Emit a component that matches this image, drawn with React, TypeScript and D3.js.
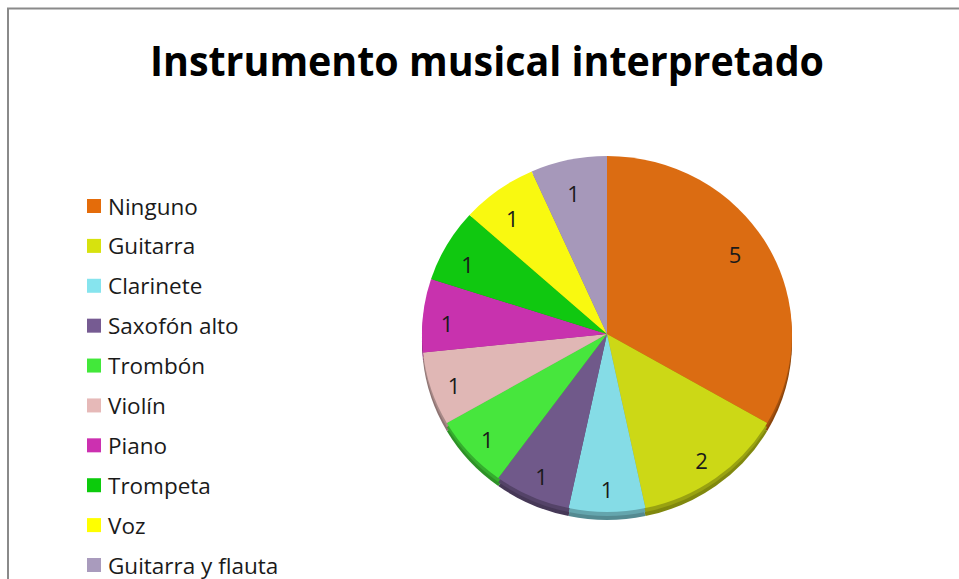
import React from "react";
import * as d3 from "d3";

const categories = [
  "Ninguno",
  "Guitarra",
  "Clarinete",
  "Saxofón alto",
  "Trombón",
  "Violín",
  "Piano",
  "Trompeta",
  "Voz",
  "Guitarra y flauta",
];
const values = [5, 2, 1, 1, 1, 1, 1, 1, 1, 1];
const colors = [
  "#DB6C12",
  "#CCD816",
  "#85DCE6",
  "#70598A",
  "#47E63D",
  "#E0B7B5",
  "#C832AE",
  "#10C810",
  "#F9F910",
  "#A698BA",
];
const legendColors = [
  "#E46C0A",
  "#D7E20E",
  "#86E4EE",
  "#765B92",
  "#42E83A",
  "#E6B9B8",
  "#CC30B0",
  "#0CCB0C",
  "#FFFF00",
  "#A99BBD",
];
const title = "Instrumento musical interpretado";

const W = 959;
const H = 579;
const cx = 607;
const cy = 334;
const rx = 185;
const ry = 178;
const depth = 8;

export default function App() {
  const pie = d3
    .pie<number>()
    .sort(null)
    .value((d) => d)(values);
  const arc = d3.arc<d3.PieArcDatum<number>>().innerRadius(0).outerRadius(rx);
  const k = ry / rx;

  const legendY = d3
    .scalePoint<string>()
    .domain(categories)
    .range([206, 565]);

  return (
    <svg
      width={W}
      height={H}
      style={{ position: "absolute", left: 0, top: 0, background: "#fff" }}
      fontFamily="'Open Sans', 'Noto Sans', sans-serif"
    >
      <rect x={0} y={0} width={W} height={H} fill="#fff" />
      <rect
        x={8}
        y={8.5}
        width={W + 50}
        height={H + 50}
        fill="none"
        stroke="#8A8A8A"
        strokeWidth={2}
      />
      <text
        x={487}
        y={76}
        textAnchor="middle"
        fontSize={42}
        fontWeight="bold"
        fill="#000"
        textLength={674}
        lengthAdjust="spacingAndGlyphs"
      >
        {title}
      </text>

      {/* depth rim */}
      <g transform={`translate(${cx},${cy + depth}) scale(1,${k})`}>
        {pie.map((p, i) => (
          <path
            key={"d" + i}
            d={arc(p) || ""}
            fill={d3.color(colors[i])!.darker(1.3).toString()}
          />
        ))}
      </g>
      <g transform={`translate(${cx},${cy + depth * 0.5}) scale(1,${k})`}>
        {pie.map((p, i) => (
          <path
            key={"m" + i}
            d={arc(p) || ""}
            fill={d3.color(colors[i])!.darker(0.8).toString()}
          />
        ))}
      </g>
      {/* top faces */}
      <g transform={`translate(${cx},${cy}) scale(1,${k})`}>
        {pie.map((p, i) => (
          <path key={"t" + i} d={arc(p) || ""} fill={colors[i]} />
        ))}
      </g>
      {/* labels */}
      {pie.map((p, i) => {
        const a = (p.startAngle + p.endAngle) / 2;
        const big = values[i] > 2;
        const fx = big ? 0.8 : 0.87;
        const fy = big ? 0.95 : 0.84;
        const x = cx + Math.sin(a) * rx * fx;
        const y = cy + 5 - Math.cos(a) * ry * fy;
        return (
          <text
            key={"l" + i}
            x={x}
            y={y}
            textAnchor="middle"
            dominantBaseline="central"
            fontSize={22}
            fill="#1a1a1a"
          >
            {values[i]}
          </text>
        );
      })}

      {/* legend */}
      {categories.map((c, i) => {
        const y = legendY(c)!;
        return (
          <g key={"g" + i}>
            <rect x={87} y={y - 7} width={14} height={14} fill={legendColors[i]} />
            <text
              x={108}
              y={y}
              dominantBaseline="central"
              fontSize={22.5}
              fill="#1a1a1a"
            >
              {c}
            </text>
          </g>
        );
      })}
    </svg>
  );
}
